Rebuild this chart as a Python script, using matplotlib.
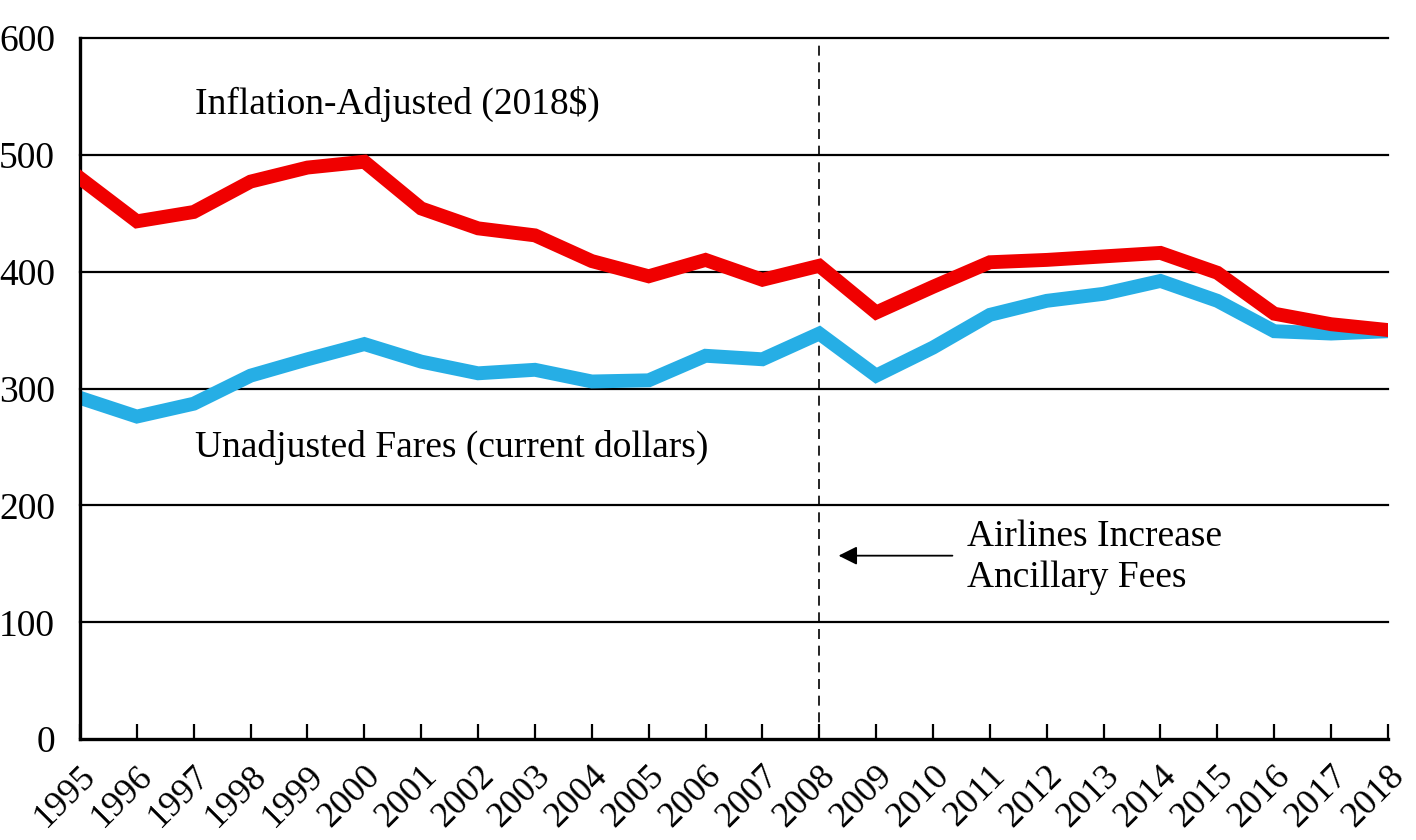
import matplotlib
matplotlib.use("Agg")
import matplotlib.pyplot as plt
from matplotlib.transforms import ScaledTranslation

years = list(range(1995, 2019))
inflation_adjusted = [480, 443, 451, 477, 489, 494, 454, 437, 431, 409, 396, 410,
                      393, 405, 365, 387, 408, 410, 413, 416, 399, 364, 355, 350]
unadjusted = [292, 276, 287, 311, 325, 338, 323, 313, 316, 306, 307, 328,
              325, 347, 311, 335, 363, 375, 381, 392, 375, 349, 347, 349]
y_ticks = [0, 100, 200, 300, 400, 500, 600]

plt.rcParams['font.family'] = ['Liberation Serif', 'DejaVu Serif']

fig = plt.figure(figsize=(14.16, 8.4), dpi=100)
ax = fig.add_axes([0.0565, 0.12, 0.9237, 0.835])

# gridlines
for v in y_ticks[1:]:
    ax.axhline(v, color='black', lw=1.6, zorder=1, clip_on=False)

ax.plot(years, inflation_adjusted, color='#f00000', lw=10, zorder=3,
        solid_joinstyle='miter')
ax.plot(years, unadjusted, color='#26aee5', lw=10, zorder=2,
        solid_joinstyle='miter')

# 2008 marker
ax.axvline(2008, color='black', lw=1.2, linestyle=(0, (6, 4)), zorder=1)
ax.annotate('', xy=(2008.29, 157), xytext=(2010.39, 157),
            arrowprops=dict(arrowstyle='-|>', color='black', lw=1.3,
                            mutation_scale=28))

ax.text(1997.02, 543, 'Inflation-Adjusted (2018$)', fontsize=27, va='center')
ax.text(1997.02, 250, 'Unadjusted Fares (current dollars)', fontsize=27, va='center')
ax.text(2010.6, 156, 'Airlines Increase\nAncillary Fees', fontsize=27,
        va='center', linespacing=1.25)

ax.set_xlim(1995, 2018)
ax.set_ylim(0, 600)
ax.set_yticks(y_ticks)
ax.set_xticks(years)
ax.set_xticklabels([str(y) for y in years], rotation=45, ha='right',
                   va='center', rotation_mode='anchor')
ax.tick_params(axis='y', length=0, pad=18, labelsize=27)
ax.tick_params(axis='x', direction='in', length=11, width=1.6, pad=23, labelsize=26)
shift = ScaledTranslation(11 / 100, 0, fig.dpi_scale_trans)
for lab in ax.get_xticklabels():
    lab.set_transform(lab.get_transform() + shift)

for s in ['top', 'right']:
    ax.spines[s].set_visible(False)
for s in ['left', 'bottom']:
    ax.spines[s].set_linewidth(2.4)

fig.savefig('out.png', dpi=100)
